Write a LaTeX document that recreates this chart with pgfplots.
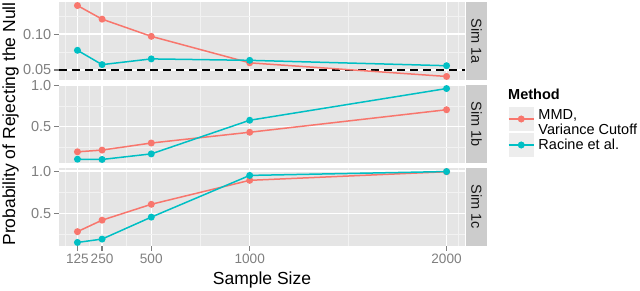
\documentclass[border=0pt]{standalone}
\usepackage{fontspec}
\setmainfont{Liberation Sans}
\usepackage{pgfplots}
\pgfplotsset{compat=1.18}
\definecolor{panelbg}{HTML}{E5E5E5}
\definecolor{minorgrid}{HTML}{F2F2F2}
\definecolor{stripbg}{HTML}{CCCCCC}
\definecolor{tickgray}{HTML}{7F7F7F}
\definecolor{mmd}{HTML}{F8766D}
\definecolor{racine}{HTML}{00BFC4}
\definecolor{keybg}{HTML}{EDEDED}
\newcommand{\tickfont}{\fontsize{14.5}{16}\selectfont}
\newcommand{\xtickfont}{\fontsize{13.6}{15}\selectfont}
\pgfplotsset{
  panel/.style={
    scale only axis, width=406pt, height=78pt, anchor=south west,
    xmin=31.25, xmax=2093.75,
    axis background/.style={fill=panelbg},
    axis line style={draw=none},
    xtick={125,250,500,1000,2000},
    minor xtick={62.5,187.5,375,750,1500,2062.5},
    grid=both,
    major grid style={white, line width=1.5pt},
    minor grid style={minorgrid, line width=0.8pt},
    tick align=outside, major tick length=5pt, minor tick length=0pt,
    tick style={tickgray, line width=1.2pt},
    xtick pos=bottom, ytick pos=left,
    /pgf/number format/assume math mode=true,
    yticklabel style={font=\tickfont, text=tickgray, inner sep=2.5pt},
    xticklabel style={font=\xtickfont, text=tickgray, inner sep=3pt},
  },
  mmdstyle/.style={mmd, line width=1.5pt, mark=*, mark size=2.7pt, mark options={draw=none, fill=mmd}},
  racstyle/.style={racine, line width=1.5pt, mark=*, mark size=2.7pt, mark options={draw=none, fill=racine}},
}
\begin{document}
\begin{tikzpicture}
\path[use as bounding box] (0pt,0pt) rectangle (640pt,291pt);
% Panel 1 (Sim 1a)
\begin{axis}[panel, at={(59pt,211pt)},
  ymin=0.03605, ymax=0.14495,
  ytick={0.05,0.10}, yticklabels={0.05,0.10},
  minor ytick={0.075,0.125},
  xticklabels={}, xtick style={draw=none},
  legend style={at={(1.1059,-0.3462)}, anchor=north west, draw=white, fill=white,
    inner sep=0pt, outer sep=0pt, row sep=2pt,
    font=\fontsize{14.5}{15}\selectfont,
    nodes={inner sep=0pt, anchor=west},
    /tikz/every odd column/.style={column sep=4pt}},
  legend cell align=left,
  legend image code/.code={
    \path[fill=keybg, draw=none] (0pt,-12pt) rectangle (25pt,12pt);
    \draw[#1] (0pt,0pt) -- (25pt,0pt);
    \fill[#1] (12.5pt,0pt) circle (2.7pt);
  },
]
\addplot[black, line width=1.4pt, dash pattern=on 8pt off 5pt, forget plot] coordinates {(31.25,0.05) (2093.75,0.05)};
\addplot[mmdstyle] coordinates {(125,0.140) (250,0.121) (500,0.097) (1000,0.060) (2000,0.041)};
\addlegendentry{\raisebox{-3.6pt}[12pt][12pt]{\begin{tabular}{@{}l@{}}MMD,\\Variance Cutoff\end{tabular}}}
\addplot[racstyle] coordinates {(125,0.0775) (250,0.0575) (500,0.0655) (1000,0.0635) (2000,0.056)};
\addlegendentry{Racine et al.}
\end{axis}
% Panel 2 (Sim 1b)
\begin{axis}[panel, at={(59pt,128pt)},
  ymin=0.057, ymax=1.006,
  ytick={0.5,1.0}, yticklabels={0.5,1.0},
  minor ytick={0.25,0.75},
  xticklabels={}, xtick style={draw=none},
]
\addplot[mmdstyle] coordinates {(125,0.193) (250,0.214) (500,0.300) (1000,0.431) (2000,0.705)};
\addplot[racstyle] coordinates {(125,0.103) (250,0.100) (500,0.168) (1000,0.577) (2000,0.963)};
\end{axis}
% Panel 3 (Sim 1c)
\begin{axis}[panel, at={(59pt,45pt)},
  ymin=0.114, ymax=1.038,
  ytick={0.5,1.0}, yticklabels={0.5,1.0},
  minor ytick={0.25,0.75},
  xticklabels={125,250,500,1000,2000},
]
\addplot[mmdstyle] coordinates {(125,0.284) (250,0.420) (500,0.608) (1000,0.892) (2000,0.994)};
\addplot[racstyle] coordinates {(125,0.156) (250,0.196) (500,0.456) (1000,0.950) (2000,0.996)};
\end{axis}
% Strips
\fill[stripbg] (466pt,211pt) rectangle (487pt,289pt);
\fill[stripbg] (466pt,128pt) rectangle (487pt,206pt);
\fill[stripbg] (466pt,45pt) rectangle (487pt,123pt);
\node[rotate=-90, font=\tickfont, text={black!90}] at (476.5pt,250pt) {Sim 1a};
\node[rotate=-90, font=\tickfont, text={black!90}] at (476.5pt,167pt) {Sim 1b};
\node[rotate=-90, font=\tickfont, text={black!90}] at (476.5pt,84pt) {Sim 1c};
% Axis titles
\node[anchor=base, font=\fontsize{17.5}{19}\selectfont] at (262pt,6pt) {Sample Size};
\node[rotate=90, font=\fontsize{17.5}{19}\selectfont] at (10.5pt,167pt) {Probability of Rejecting the Null};
% Legend title
\node[anchor=base west, font=\fontsize{14.5}{16}\selectfont\bfseries, inner sep=0pt] at (508pt,191pt) {Method};
\end{tikzpicture}
\end{document}
